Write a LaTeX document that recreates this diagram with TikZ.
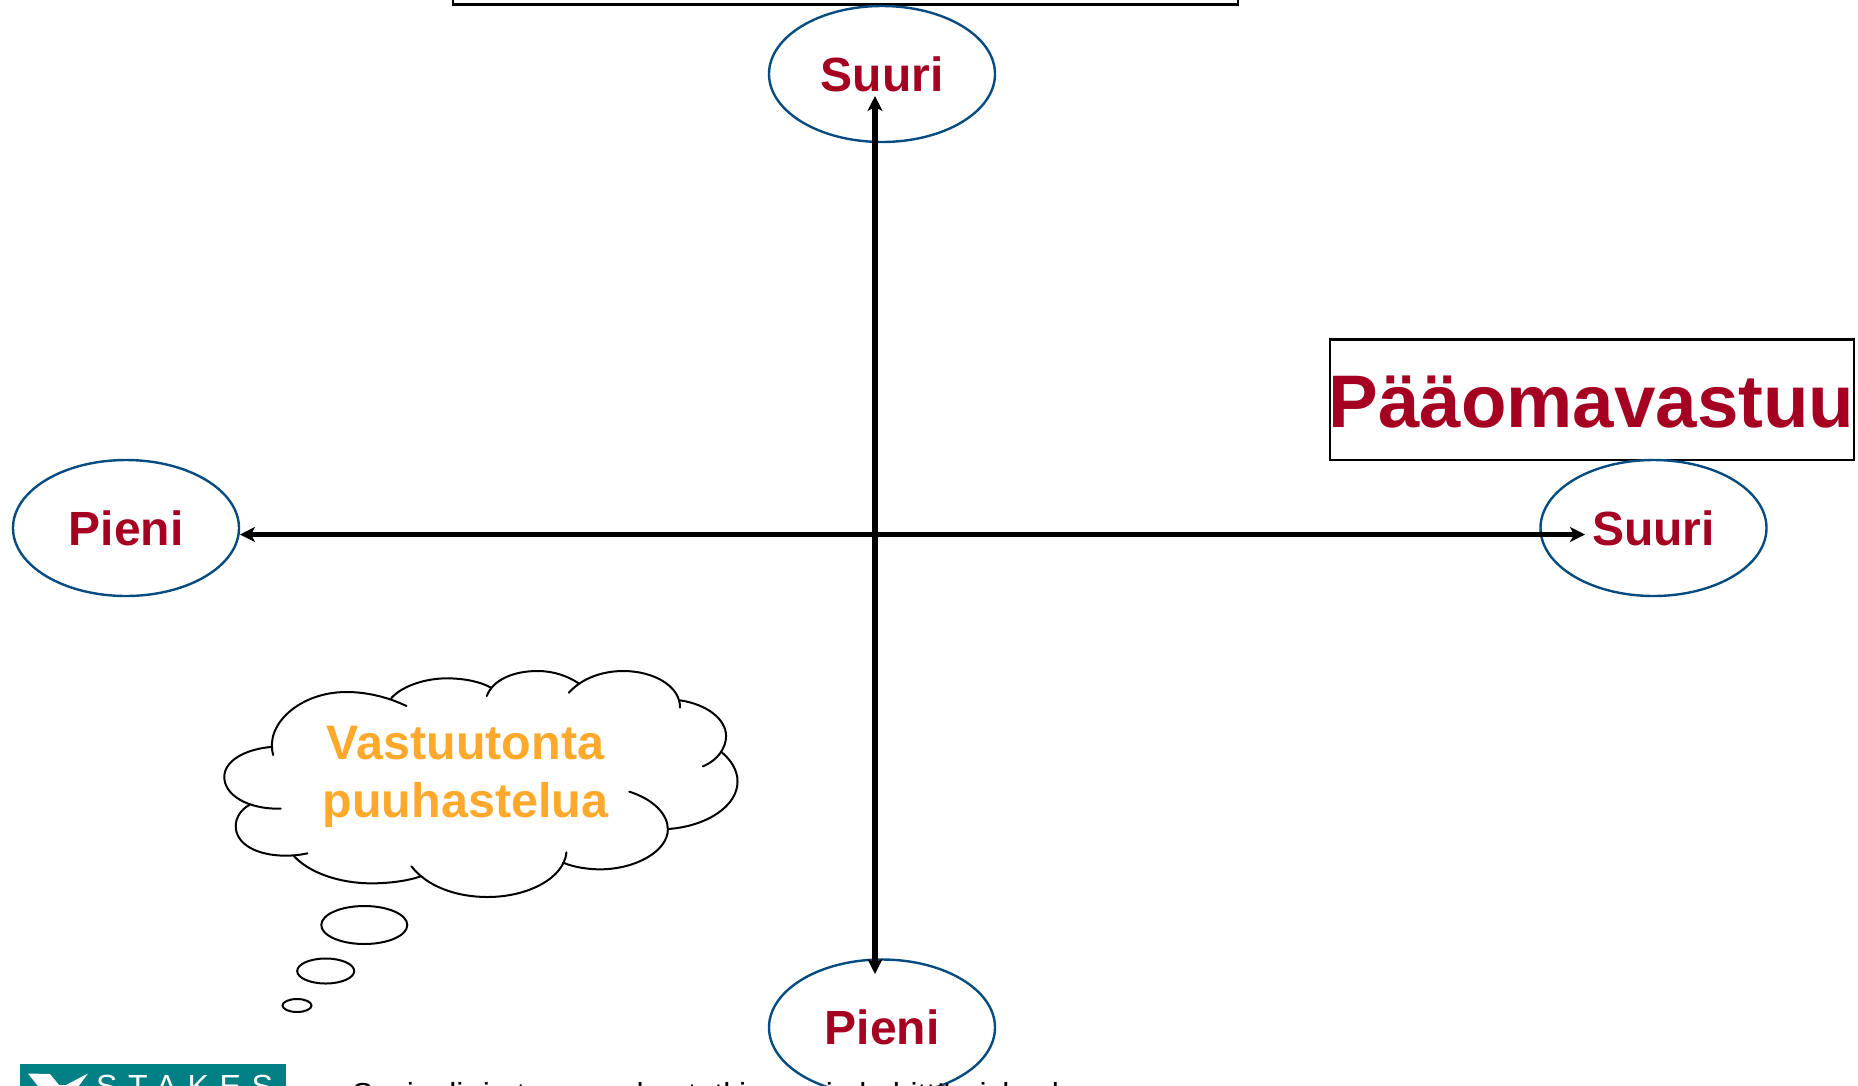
\documentclass[tikz,border=0pt]{standalone}
\usepackage{fontspec}
\setmainfont{Liberation Sans}
\newfontfamily\logofont[LetterSpace=33]{Liberation Sans}
\usetikzlibrary{shapes.geometric,arrows.meta}
\definecolor{darkred}{HTML}{A50021}
\definecolor{ringblue}{HTML}{064C80}
\definecolor{cloudorange}{HTML}{FFA92C}
\definecolor{logoteal}{HTML}{007F85}
\tikzset{
  pole/.style={ellipse,draw=ringblue,line width=2.4pt,minimum width=226pt,minimum height=136pt,inner sep=0pt,
    text=darkred,font=\bfseries\fontsize{48}{48}\selectfont},
  axis/.style={line width=5.2pt,{Stealth[length=15pt,width=15pt,inset=4pt]}-{Stealth[length=15pt,width=15pt,inset=4pt]},shorten <=0pt,shorten >=0pt},
  framebox/.style={draw=black,line width=2.8pt,inner sep=0pt},
  cloudline/.style={draw=black,line width=2pt,line cap=round},
  puff/.style={ellipse,draw=black,line width=2pt,inner sep=0pt},
  cloudtext/.style={text=cloudorange,font=\bfseries\fontsize{48.5}{58}\selectfont,align=center,inner sep=0pt}
}
\begin{document}
\begin{tikzpicture}[x=1pt,y=-1pt]
\useasboundingbox (0,0) rectangle (1858,1085);
\clip (0,0) rectangle (1858,1085);
% boxes
\node[framebox,minimum width=785pt,minimum height=30pt,anchor=south west] (topbox) at (451.5,5.5) {};
\node[framebox,minimum width=524pt,minimum height=120.5pt,anchor=north west] (capbox) at (1328.5,338) {};
\node[anchor=base,text=darkred,inner sep=0pt,font=\bfseries\fontsize{74.5}{74.5}\selectfont] (captext) at (1591.5,427) {Pääomavastuu};
% poles
\node[pole] (north) at (882,74) {Suuri};
\node[pole] (east) at (1653.5,528) {Suuri};
\node[pole] (west) at (126,528) {Pieni};
\node[pole] (south) at (882,1027.5) {Pieni};
% axes
\coordinate (ntip) at (875,96);
\coordinate (stip) at (875,974);
\coordinate (wtip) at (240,534.5);
\coordinate (etip) at (1585,534.5);
\draw[axis] (stip) -- (ntip);
\draw[axis] (wtip) -- (etip);
% cloud, in the coordinates of an enlarged view
\begin{scope}[shift={(200pt,-651pt)},x=0.35714pt,y=-0.33333pt]
\draw[cloudline] (205,312) .. controls (180,220) and (280,123) .. (410,123) .. controls (470,123) and (530,140) .. (578,165);
\draw[cloudline] (535,142) .. controls (570,100) and (640,82) .. (690,82) .. controls (740,82) and (785,92) .. (815,110);
\draw[cloudline] (803,135) .. controls (820,85) and (880,60) .. (945,60) .. controls (990,60) and (1030,75) .. (1060,97);
\draw[cloudline] (1033,125) .. controls (1070,80) and (1130,60) .. (1185,60) .. controls (1270,60) and (1345,105) .. (1344,170);
\draw[cloudline] (1344,148) .. controls (1420,160) and (1473,205) .. (1473,255) .. controls (1473,290) and (1450,328) .. (1408,346);
\draw[cloudline] (1460,303) .. controls (1490,330) and (1505,360) .. (1505,392) .. controls (1505,465) and (1420,525) .. (1312,534);
\draw[cloudline] (1202,422) .. controls (1270,445) and (1310,490) .. (1310,535) .. controls (1310,600) and (1220,655) .. (1120,655) .. controls (1085,655) and (1045,648) .. (1017,635);
\draw[cloudline] (1026,604) .. controls (1020,680) and (920,738) .. (805,738) .. controls (715,738) and (635,705) .. (592,646);
\draw[cloudline] (618,676) .. controls (580,690) and (530,697) .. (480,697) .. controls (390,697) and (305,665) .. (262,614);
\draw[cloudline] (301,607) .. controls (280,612) and (260,614) .. (240,614) .. controls (160,614) and (100,580) .. (100,525) .. controls (100,500) and (115,475) .. (138,462);
\draw[cloudline] (226,473) .. controls (130,475) and (68,430) .. (68,378) .. controls (68,330) and (125,295) .. (198,288);
\end{scope}
\node[puff,minimum width=86pt,minimum height=38pt] (puffa) at (364.3,925) {};
\node[puff,minimum width=57pt,minimum height=25pt] (puffb) at (325.7,971) {};
\node[puff,minimum width=29pt,minimum height=13pt] (puffc) at (297,1005.5) {};
\node[cloudtext,anchor=base] (cloudtop) at (465.5,759) {Vastuutonta};
\node[cloudtext,anchor=base] (cloudbottom) at (465.5,817) {puuhastelua};
% logo
\node[fill=logoteal,minimum width=266pt,minimum height=60pt,inner sep=0pt,anchor=north west] (logo) at (20,1063.5) {};
\fill[white] (28,1073.5) -- (50,1074) -- (59,1085) -- (66,1085) -- (88,1073.5) -- (72,1095) -- (45,1095) -- cycle;
\node[anchor=base west,text=white,inner sep=0pt,font=\logofont\fontsize{32}{32}\selectfont] (logotext) at (96,1097) {STAKES};
% footer
\node[anchor=base west,inner sep=0pt,font=\fontsize{31.8}{32}\selectfont] (footer) at (352,1105) {Sosiaali- ja terveysalan tutkimus- ja kehittämiskeskus};
\end{tikzpicture}
\end{document}
